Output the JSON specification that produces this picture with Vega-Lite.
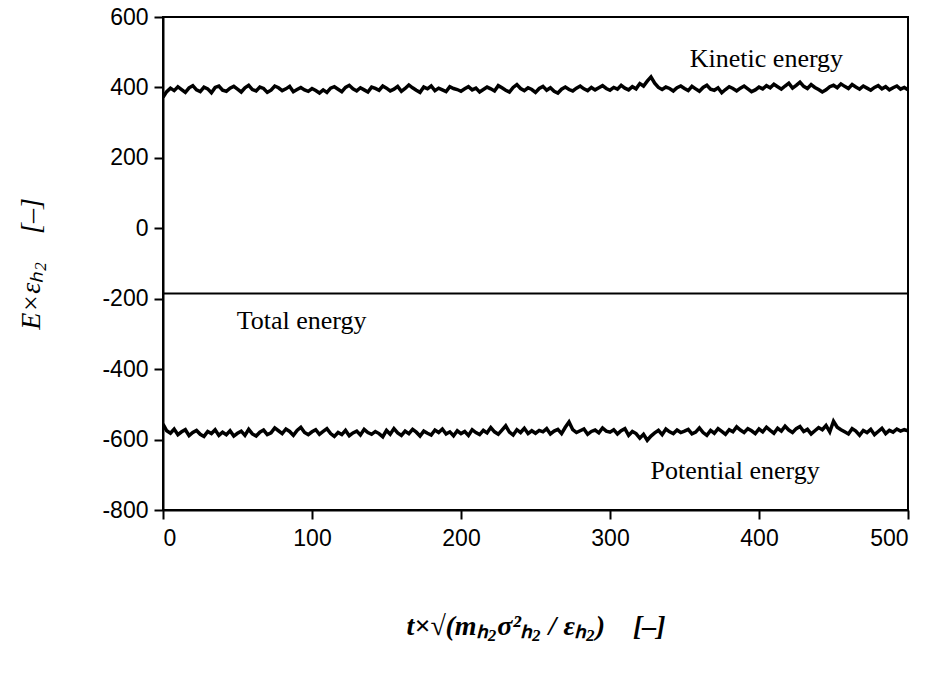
{
  "$schema": "https://vega.github.io/schema/vega-lite/v6.json",
  "width": 745,
  "height": 493,
  "autosize": "none",
  "padding": {"left": 163, "top": 17, "right": 27, "bottom": 178},
  "background": "white",
  "config": {
    "view": {"stroke": "black", "strokeWidth": 2},
    "axis": {
      "grid": false,
      "domainColor": "black",
      "domainWidth": 2,
      "tickColor": "black",
      "tickWidth": 2,
      "tickSize": 9,
      "labelFont": "Liberation Sans",
      "labelFontSize": 23,
      "labelColor": "black",
      "labelExpr": "replace(datum.label, '−', '-')",
      "titleFont": "Liberation Serif",
      "titleFontSize": 28,
      "titleFontStyle": "italic",
      "titleFontWeight": "normal",
      "titleColor": "black"
    }
  },
  "datasets": {
    "series": [
      {"t":0,"k":372,"p":-556},{"t":2.5,"k":388,"p":-575},{"t":5,"k":398,"p":-582},{"t":7.5,"k":391,"p":-570},{"t":10,"k":402,"p":-586},{"t":12.5,"k":394,"p":-578},{"t":15,"k":386,"p":-572},{"t":17.5,"k":399,"p":-589},{"t":20,"k":405,"p":-580},{"t":22.5,"k":393,"p":-574},
      {"t":25,"k":388,"p":-585},{"t":27.5,"k":401,"p":-591},{"t":30,"k":396,"p":-577},{"t":32.5,"k":385,"p":-583},{"t":35,"k":400,"p":-572},{"t":37.5,"k":404,"p":-588},{"t":40,"k":392,"p":-579},{"t":42.5,"k":389,"p":-586},{"t":45,"k":398,"p":-575},{"t":47.5,"k":403,"p":-590},
      {"t":50,"k":395,"p":-582},{"t":52.5,"k":387,"p":-576},{"t":55,"k":399,"p":-588},{"t":57.5,"k":406,"p":-571},{"t":60,"k":394,"p":-584},{"t":62.5,"k":390,"p":-590},{"t":65,"k":401,"p":-579},{"t":67.5,"k":397,"p":-573},{"t":70,"k":386,"p":-586},{"t":72.5,"k":392,"p":-581},
      {"t":75,"k":404,"p":-567},{"t":77.5,"k":399,"p":-575},{"t":80,"k":391,"p":-583},{"t":82.5,"k":396,"p":-570},{"t":85,"k":403,"p":-577},{"t":87.5,"k":388,"p":-588},{"t":90,"k":394,"p":-574},{"t":92.5,"k":400,"p":-565},{"t":95,"k":393,"p":-580},{"t":97.5,"k":389,"p":-586},
      {"t":100,"k":397,"p":-578},{"t":102.5,"k":391,"p":-572},{"t":105,"k":384,"p":-585},{"t":107.5,"k":393,"p":-577},{"t":110,"k":386,"p":-569},{"t":112.5,"k":398,"p":-583},{"t":115,"k":402,"p":-591},{"t":117.5,"k":395,"p":-580},{"t":120,"k":388,"p":-586},{"t":122.5,"k":400,"p":-574},
      {"t":125,"k":406,"p":-589},{"t":127.5,"k":396,"p":-581},{"t":130,"k":390,"p":-576},{"t":132.5,"k":399,"p":-587},{"t":135,"k":393,"p":-571},{"t":137.5,"k":387,"p":-580},{"t":140,"k":401,"p":-585},{"t":142.5,"k":397,"p":-577},{"t":145,"k":392,"p":-583},{"t":147.5,"k":404,"p":-592},
      {"t":150,"k":398,"p":-574},{"t":152.5,"k":390,"p":-585},{"t":155,"k":395,"p":-569},{"t":157.5,"k":403,"p":-581},{"t":160,"k":389,"p":-588},{"t":162.5,"k":397,"p":-576},{"t":165,"k":407,"p":-583},{"t":167.5,"k":399,"p":-571},{"t":170,"k":392,"p":-579},{"t":172.5,"k":386,"p":-590},
      {"t":175,"k":401,"p":-576},{"t":177.5,"k":396,"p":-582},{"t":180,"k":404,"p":-587},{"t":182.5,"k":391,"p":-573},{"t":185,"k":398,"p":-580},{"t":187.5,"k":393,"p":-570},{"t":190,"k":388,"p":-584},{"t":192.5,"k":402,"p":-578},{"t":195,"k":397,"p":-589},{"t":197.5,"k":394,"p":-575},
      {"t":200,"k":389,"p":-583},{"t":202.5,"k":396,"p":-577},{"t":205,"k":402,"p":-588},{"t":207.5,"k":393,"p":-572},{"t":210,"k":398,"p":-580},{"t":212.5,"k":387,"p":-586},{"t":215,"k":394,"p":-574},{"t":217.5,"k":401,"p":-581},{"t":220,"k":396,"p":-566},{"t":222.5,"k":390,"p":-578},
      {"t":225,"k":405,"p":-585},{"t":227.5,"k":399,"p":-573},{"t":230,"k":392,"p":-561},{"t":232.5,"k":387,"p":-579},{"t":235,"k":400,"p":-587},{"t":237.5,"k":408,"p":-572},{"t":240,"k":397,"p":-580},{"t":242.5,"k":391,"p":-568},{"t":245,"k":399,"p":-583},{"t":247.5,"k":394,"p":-575},
      {"t":250,"k":386,"p":-582},{"t":252.5,"k":397,"p":-574},{"t":255,"k":403,"p":-578},{"t":257.5,"k":392,"p":-569},{"t":260,"k":399,"p":-584},{"t":262.5,"k":389,"p":-576},{"t":265,"k":384,"p":-571},{"t":267.5,"k":395,"p":-583},{"t":270,"k":401,"p":-565},{"t":272.5,"k":394,"p":-550},
      {"t":275,"k":390,"p":-572},{"t":277.5,"k":398,"p":-580},{"t":280,"k":404,"p":-575},{"t":282.5,"k":396,"p":-570},{"t":285,"k":391,"p":-585},{"t":287.5,"k":400,"p":-577},{"t":290,"k":393,"p":-573},{"t":292.5,"k":399,"p":-581},{"t":295,"k":405,"p":-567},{"t":297.5,"k":397,"p":-576},
      {"t":300,"k":392,"p":-579},{"t":302.5,"k":400,"p":-572},{"t":305,"k":395,"p":-584},{"t":307.5,"k":406,"p":-575},{"t":310,"k":398,"p":-569},{"t":312.5,"k":393,"p":-588},{"t":315,"k":402,"p":-577},{"t":317.5,"k":396,"p":-583},{"t":320,"k":411,"p":-596},{"t":322.5,"k":404,"p":-585},
      {"t":325,"k":418,"p":-602},{"t":327.5,"k":430,"p":-590},{"t":330,"k":412,"p":-581},{"t":332.5,"k":400,"p":-574},{"t":335,"k":394,"p":-586},{"t":337.5,"k":401,"p":-570},{"t":340,"k":397,"p":-578},{"t":342.5,"k":390,"p":-583},{"t":345,"k":399,"p":-573},{"t":347.5,"k":404,"p":-580},
      {"t":350,"k":397,"p":-576},{"t":352.5,"k":391,"p":-571},{"t":355,"k":403,"p":-584},{"t":357.5,"k":396,"p":-579},{"t":360,"k":389,"p":-567},{"t":362.5,"k":400,"p":-580},{"t":365,"k":406,"p":-588},{"t":367.5,"k":395,"p":-574},{"t":370,"k":392,"p":-582},{"t":372.5,"k":399,"p":-569},
      {"t":375,"k":385,"p":-577},{"t":377.5,"k":394,"p":-585},{"t":380,"k":402,"p":-572},{"t":382.5,"k":397,"p":-578},{"t":385,"k":390,"p":-564},{"t":387.5,"k":398,"p":-573},{"t":390,"k":404,"p":-580},{"t":392.5,"k":396,"p":-569},{"t":395,"k":388,"p":-575},{"t":397.5,"k":393,"p":-583},
      {"t":400,"k":401,"p":-570},{"t":402.5,"k":396,"p":-578},{"t":405,"k":405,"p":-565},{"t":407.5,"k":399,"p":-574},{"t":410,"k":409,"p":-582},{"t":412.5,"k":402,"p":-568},{"t":415,"k":395,"p":-576},{"t":417.5,"k":404,"p":-562},{"t":420,"k":412,"p":-573},{"t":422.5,"k":398,"p":-580},
      {"t":425,"k":406,"p":-569},{"t":427.5,"k":415,"p":-563},{"t":430,"k":403,"p":-577},{"t":432.5,"k":397,"p":-571},{"t":435,"k":408,"p":-584},{"t":437.5,"k":400,"p":-575},{"t":440,"k":394,"p":-566},{"t":442.5,"k":387,"p":-572},{"t":445,"k":393,"p":-560},{"t":447.5,"k":402,"p":-578},
      {"t":450,"k":406,"p":-548},{"t":452.5,"k":399,"p":-565},{"t":455,"k":410,"p":-572},{"t":457.5,"k":403,"p":-578},{"t":460,"k":397,"p":-584},{"t":462.5,"k":408,"p":-569},{"t":465,"k":401,"p":-576},{"t":467.5,"k":395,"p":-588},{"t":470,"k":404,"p":-574},{"t":472.5,"k":398,"p":-580},
      {"t":475,"k":392,"p":-571},{"t":477.5,"k":400,"p":-586},{"t":480,"k":405,"p":-577},{"t":482.5,"k":396,"p":-568},{"t":485,"k":402,"p":-583},{"t":487.5,"k":393,"p":-574},{"t":490,"k":399,"p":-579},{"t":492.5,"k":404,"p":-570},{"t":495,"k":395,"p":-576},{"t":497.5,"k":400,"p":-572},
      {"t":500,"k":393,"p":-575}
    ],
    "total": [
      {"t": 0, "e": -185},
      {"t": 500, "e": -185}
    ],
    "labels": [
      {"t": 405, "y": 480, "text": "Kinetic energy"},
      {"t": 93, "y": -262, "text": "Total energy"},
      {"t": 384, "y": -690, "text": "Potential energy"}
    ]
  },
  "layer": [
    {
      "data": {"name": "series"},
      "mark": {"type": "line", "color": "black", "strokeWidth": 3.5, "strokeJoin": "miter", "clip": true},
      "encoding": {
        "x": {
          "field": "t", "type": "quantitative",
          "scale": {"domain": [0, 500], "nice": false},
          "axis": {"values": [0, 100, 200, 300, 400, 500], "labelPadding": 8, "title": "t×√(mₕ₂σ²ₕ₂ / εₕ₂)\u00a0\u00a0\u00a0\u00a0[–]", "titleFontWeight": "bold", "titlePadding": 62}
        },
        "y": {
          "field": "k", "type": "quantitative",
          "scale": {"domain": [-800, 600], "nice": false, "zero": false},
          "axis": {"values": [-800, -600, -400, -200, 0, 200, 400, 600], "labelPadding": 6, "title": "E×εₕ₂\u00a0\u00a0\u00a0\u00a0[–]", "titlePadding": 56}
        }
      }
    },
    {
      "data": {"name": "series"},
      "mark": {"type": "line", "color": "black", "strokeWidth": 3.5, "strokeJoin": "miter", "clip": true},
      "encoding": {
        "x": {"field": "t", "type": "quantitative"},
        "y": {"field": "p", "type": "quantitative"}
      }
    },
    {
      "data": {"name": "total"},
      "mark": {"type": "line", "color": "black", "strokeWidth": 2},
      "encoding": {
        "x": {"field": "t", "type": "quantitative"},
        "y": {"field": "e", "type": "quantitative"}
      }
    },
    {
      "data": {"name": "labels"},
      "mark": {"type": "text", "font": "Liberation Serif", "fontSize": 26, "color": "black", "align": "center", "baseline": "middle"},
      "encoding": {
        "x": {"field": "t", "type": "quantitative"},
        "y": {"field": "y", "type": "quantitative"},
        "text": {"field": "text"}
      }
    }
  ]
}
